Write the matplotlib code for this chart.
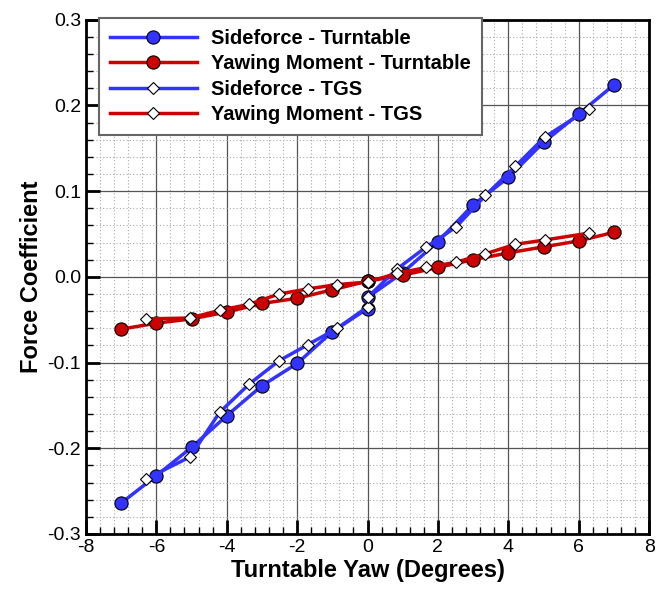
import matplotlib.pyplot as plt
from matplotlib.ticker import MultipleLocator, FormatStrFormatter

plt.rcParams["font.family"] = ["Liberation Sans", "DejaVu Sans"]
plt.rcParams["axes.unicode_minus"] = False

# Turntable measurements (integer yaw angles, 0 measured twice)
yaw_tt = [-7, -6, -5, -4, -3, -2, -1, 0, 0, 1, 2, 3, 4, 5, 6, 7]
side_tt = [-0.264, -0.232, -0.199, -0.162, -0.127, -0.101, -0.064, -0.037, -0.024,
           0.005, 0.041, 0.084, 0.116, 0.157, 0.190, 0.224]
yaw_mom_tt = [-0.061, -0.054, -0.049, -0.041, -0.031, -0.025, -0.015, -0.005, -0.005,
              0.002, 0.011, 0.020, 0.028, 0.035, 0.042, 0.052]

# TGS measurements
yaw_tgs = [-6.3, -5.04, -4.2, -3.36, -2.52, -1.69, -0.86, 0, 0, 0.83, 1.67, 2.51, 3.35,
           4.2, 5.03, 6.28]
side_tgs = [-0.236, -0.210, -0.158, -0.125, -0.098, -0.079, -0.060, -0.035, -0.024,
            0.009, 0.035, 0.058, 0.095, 0.129, 0.163, 0.196]
yaw_mom_tgs = [-0.049, -0.048, -0.039, -0.032, -0.020, -0.014, -0.009, -0.006, -0.006,
               0.004, 0.011, 0.017, 0.027, 0.038, 0.043, 0.051]

blue = "#3333ff"
red = "#cc0000"

fig = plt.figure(figsize=(6.61, 5.89), dpi=100)
ax = fig.add_axes([0.130, 0.0934, 0.852, 0.873])

ax.plot(yaw_tt, side_tt, color=blue, lw=2.5, marker="o", ms=9.5, mfc=blue,
        mec="black", mew=0.8, label="Sideforce - Turntable", zorder=3)
ax.plot(yaw_tt, yaw_mom_tt, color=red, lw=2.5, marker="o", ms=9.5, mfc=red,
        mec="black", mew=0.8, label="Yawing Moment - Turntable", zorder=3)
ax.plot(yaw_tgs, side_tgs, color=blue, lw=2.5, marker="D", ms=6.5, mfc="white",
        mec="black", mew=0.8, label="Sideforce - TGS", zorder=4)
ax.plot(yaw_tgs, yaw_mom_tgs, color=red, lw=2.5, marker="D", ms=6.5, mfc="white",
        mec="black", mew=0.8, label="Yawing Moment - TGS", zorder=4)

ax.set_xlim(-8, 8)
ax.set_ylim(-0.3, 0.3)
ax.xaxis.set_major_locator(MultipleLocator(2))
ax.xaxis.set_minor_locator(MultipleLocator(0.4))
ax.yaxis.set_major_locator(MultipleLocator(0.1))
ax.yaxis.set_minor_locator(MultipleLocator(0.02))
ax.yaxis.set_major_formatter(FormatStrFormatter("%.1f"))

ax.grid(which="major", color="#555555", lw=0.9, ls="-")
ax.grid(which="minor", color="#aaaaaa", lw=0.8, ls=(0, (1, 2)))
ax.set_axisbelow(True)

ax.tick_params(which="major", direction="in", length=10, width=2, labelsize=14,
               top=False, right=False)
ax.tick_params(which="minor", direction="in", length=5, width=1, top=False, right=False)
for s in ax.spines.values():
    s.set_linewidth(2)

ax.set_xlabel("Turntable Yaw (Degrees)", fontsize=17, fontweight="bold", labelpad=2)
ax.set_ylabel("Force Coefficient", fontsize=17, fontweight="bold", labelpad=3)

leg = ax.legend(loc="upper left", bbox_to_anchor=(0.023, 1.004), borderaxespad=0,
                prop={"size": 14.5, "weight": "bold"}, handlelength=4.3,
                handletextpad=0.7, labelspacing=0.32, fancybox=False,
                framealpha=1, edgecolor="#666666", borderpad=0.55)
leg.get_frame().set_linewidth(1.5)
leg.set_zorder(10)

fig.savefig("out.png", dpi=100)
